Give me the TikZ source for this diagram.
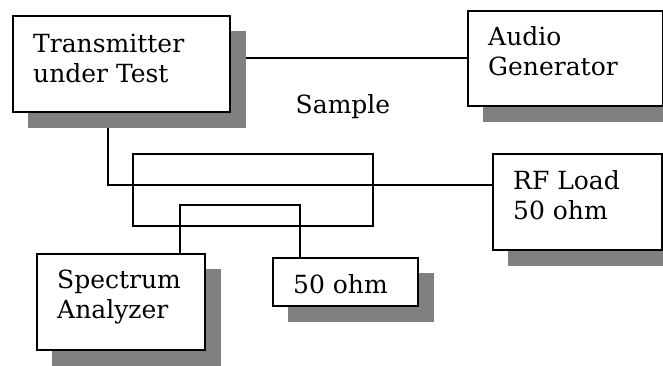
\documentclass[tikz,border=0pt]{standalone}
\usepackage{fontspec}
\setmainfont{DejaVu Serif}
\usetikzlibrary{calc}
\definecolor{shadowgray}{HTML}{808080}
\tikzset{
  box/.style={draw, fill=white, line width=1.8pt, rectangle, inner sep=0pt, anchor=north west},
  frame/.style={draw, line width=1.8pt, rectangle, inner sep=0pt, anchor=north west},
  wire/.style={line width=1.8pt},
  txt/.style={anchor=base west, inner sep=0pt, font=\fontsize{25}{30}\selectfont},
}
\newcommand{\twolines}[2]{\begin{tabular}[t]{@{}l@{}}#1\\#2\end{tabular}}
\begin{document}
\begin{tikzpicture}[x=1pt,y=-1pt]
\useasboundingbox (0,0) rectangle (663,365);
\begin{scope}
\clip (0,0) rectangle (663,365);
% box geometry
\path (12,15) node[minimum width=217pt, minimum height=96pt, inner sep=0pt, anchor=north west] (tx) {};
\path (467,10) node[minimum width=195pt, minimum height=95pt, inner sep=0pt, anchor=north west] (ag) {};
\path (492,153) node[minimum width=169pt, minimum height=96pt, inner sep=0pt, anchor=north west] (rf) {};
\path (36,253) node[minimum width=168pt, minimum height=96pt, inner sep=0pt, anchor=north west] (sa) {};
\path (272,257) node[minimum width=145pt, minimum height=48pt, inner sep=0pt, anchor=north west] (fo) {};
\node[frame, minimum width=240pt, minimum height=72pt] (smp) at (132,153) {};
% junction coordinates
\coordinate (j1) at (108,185);
\coordinate (c1) at (180,205);
\coordinate (c2) at (300,205);
% wires
\draw[wire] (ag.west) -- (ag.west -| tx.east);
\draw[wire] (tx.south -| j1) -- (j1) -- (j1 -| rf.west);
\draw[wire] (sa.north -| c1) -- (c1) -- (c2) -- (fo.north -| c2);
% shadows
\foreach \b in {tx,ag,rf,sa,fo}{
  \fill[shadowgray] ($(\b.north west)+(16,16)$) rectangle ($(\b.south east)+(17,17)$);
}
% boxes
\node[box, minimum width=217pt, minimum height=96pt] (txb) at (tx.north west) {};
\node[box, minimum width=195pt, minimum height=95pt] (agb) at (ag.north west) {};
\node[box, minimum width=169pt, minimum height=96pt] (rfb) at (rf.north west) {};
\node[box, minimum width=168pt, minimum height=96pt] (sab) at (sa.north west) {};
\node[box, minimum width=145pt, minimum height=48pt] (fob) at (fo.north west) {};
\end{scope}
% texts
\node[txt] (txt1) at ($(tx.north west)+(21,37)$) {\twolines{Transmitter}{under Test}};
\node[txt] (txt2) at ($(ag.north west)+(21,35)$) {\twolines{Audio}{Generator}};
\node[txt] (txt3) at ($(rf.north west)+(21,36)$) {\twolines{RF Load}{50 ohm}};
\node[txt] (txt4) at ($(sa.north west)+(21,35)$) {\twolines{Spectrum}{Analyzer}};
\node[txt] (txt5) at ($(fo.north west)+(21,36)$) {50 ohm};
\node[txt, anchor=base] (txt6) at (343,113) {Sample};
\end{tikzpicture}
\end{document}
